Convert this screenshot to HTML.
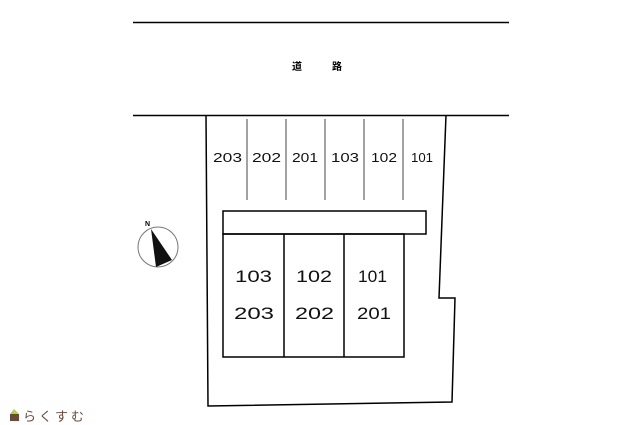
<!DOCTYPE html><html><head><style>body{margin:0;background:#fff}svg{display:block}</style></head><body>
<svg width="640" height="425" viewBox="0 0 640 425" xmlns="http://www.w3.org/2000/svg" font-family="'Liberation Sans','Noto Sans CJK JP',sans-serif">
<g stroke="#000" fill="none" stroke-width="1.5">
<line x1="133" y1="22.5" x2="509" y2="22.5"/>
<line x1="133" y1="115.5" x2="509" y2="115.5"/>
<polyline points="206,115 208,406 452,402 455,298 439,298 446,115"/>
<rect x="223" y="211" width="203" height="23"/>
<rect x="223" y="234" width="181" height="123"/>
<line x1="284" y1="234" x2="284" y2="357"/>
<line x1="344" y1="234" x2="344" y2="357"/>
</g>
<g stroke="#444" stroke-width="1">
<line x1="247" y1="119" x2="247" y2="200"/>
<line x1="286" y1="119" x2="286" y2="200"/>
<line x1="325" y1="119" x2="325" y2="200"/>
<line x1="364" y1="119" x2="364" y2="200"/>
<line x1="403" y1="119" x2="403" y2="200"/>
</g>
<text x="297" y="70" font-size="10" font-weight="bold" text-anchor="middle">道</text>
<text x="337" y="70" font-size="10" font-weight="bold" text-anchor="middle">路</text>
<g font-size="13" fill="#111">
<text x="213" y="162" textLength="29" lengthAdjust="spacingAndGlyphs">203</text><text x="252" y="162" textLength="29" lengthAdjust="spacingAndGlyphs">202</text><text x="292" y="162" textLength="26" lengthAdjust="spacingAndGlyphs">201</text>
<text x="331" y="162" textLength="28" lengthAdjust="spacingAndGlyphs">103</text><text x="371" y="162" textLength="26" lengthAdjust="spacingAndGlyphs">102</text><text x="411" y="162" textLength="22" lengthAdjust="spacingAndGlyphs">101</text>
</g>
<g font-size="17" fill="#111">
<text x="235" y="282" textLength="37" lengthAdjust="spacingAndGlyphs">103</text><text x="296" y="282" textLength="36" lengthAdjust="spacingAndGlyphs">102</text><text x="358" y="282" textLength="29" lengthAdjust="spacingAndGlyphs">101</text>
<text x="234" y="319" textLength="40" lengthAdjust="spacingAndGlyphs">203</text><text x="295" y="319" textLength="39" lengthAdjust="spacingAndGlyphs">202</text><text x="357" y="319" textLength="34" lengthAdjust="spacingAndGlyphs">201</text>
</g>
<circle cx="158" cy="247" r="20" fill="none" stroke="#777" stroke-width="1"/>
<polygon points="151,229 156,267 172,260" fill="#111"/>
<text x="145" y="226" font-size="7" font-weight="bold">N</text>
<polygon points="14,409 19,414 10,414" fill="#b5d334"/>
<rect x="10" y="414" width="9" height="7" fill="#6b4a3a"/>
<text x="23" y="421" font-size="13" fill="#6b4a3a" letter-spacing="3">らくすむ</text>
</svg>
</body></html>
